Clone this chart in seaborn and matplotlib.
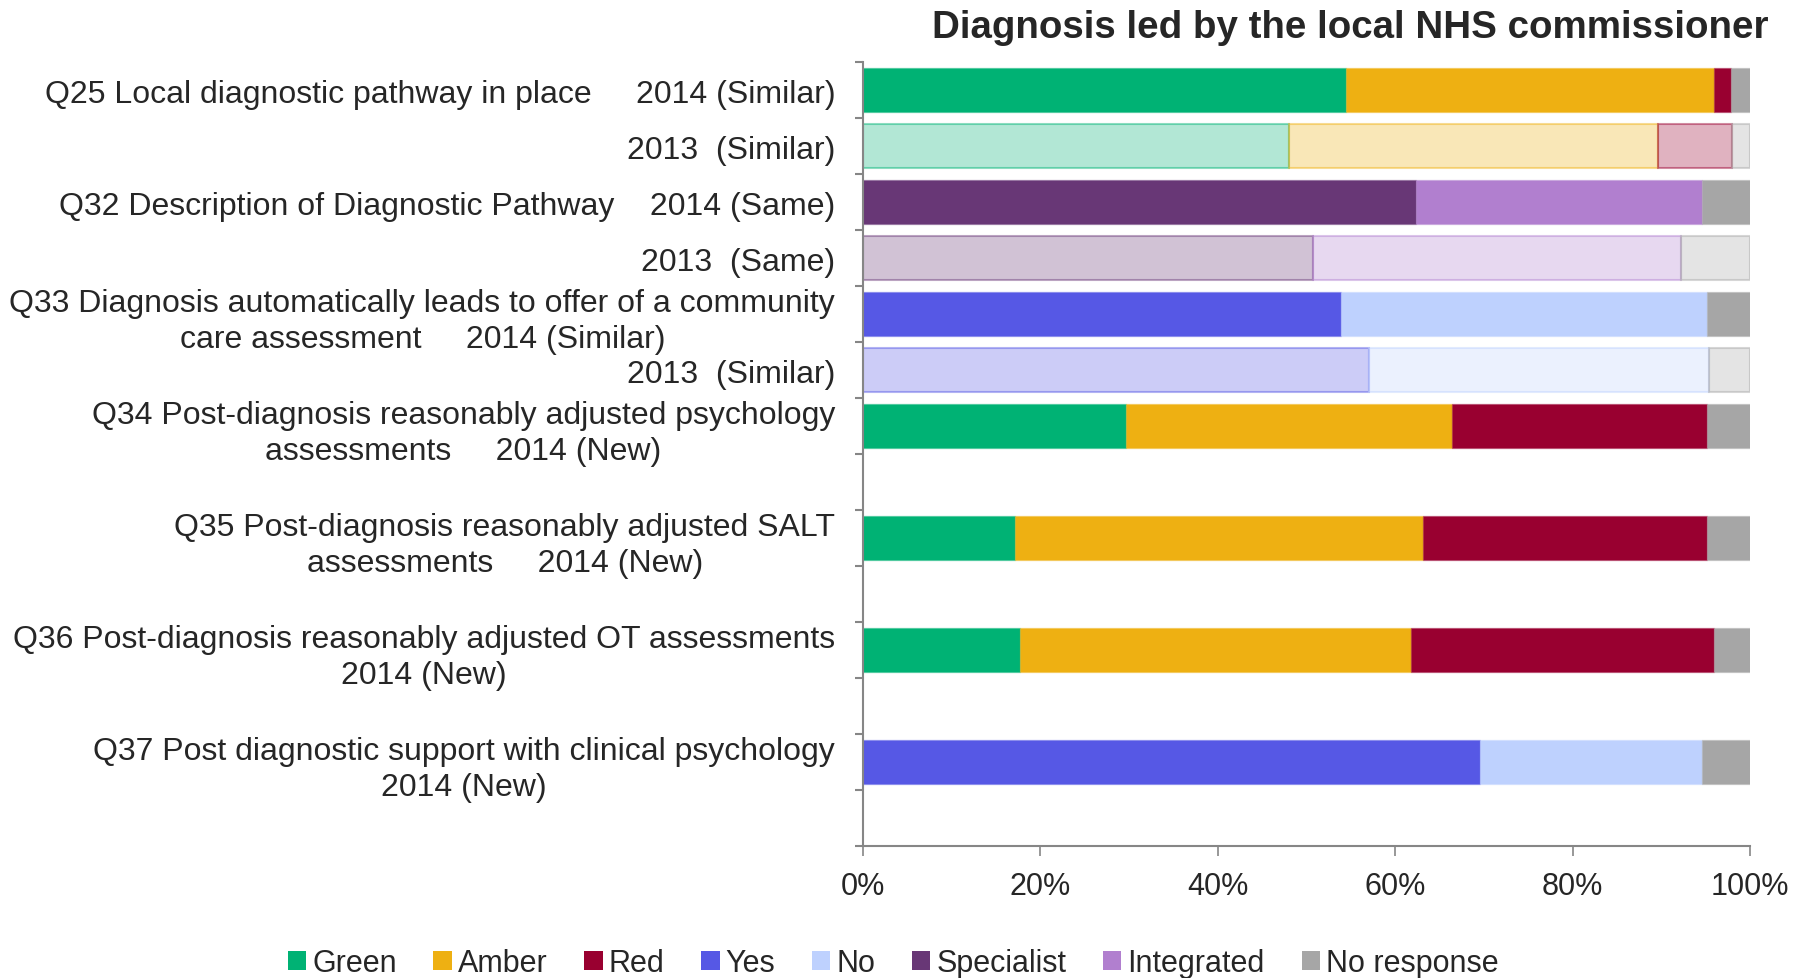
import matplotlib
matplotlib.use("Agg")
import matplotlib.pyplot as plt
import matplotlib.colors as mcolors
from matplotlib.patches import Patch
import seaborn as sns
import numpy as np

# rows top to bottom, empty strings are spacer slots
labels = [
    "Q25 Local diagnostic pathway in place     2014 (Similar)",
    "2013  (Similar)",
    "Q32 Description of Diagnostic Pathway    2014 (Same)",
    "2013  (Same)",
    "Q33 Diagnosis automatically leads to offer of a community\ncare assessment     2014 (Similar)",
    "2013  (Similar)",
    "Q34 Post-diagnosis reasonably adjusted psychology\nassessments     2014 (New)",
    "",
    "Q35 Post-diagnosis reasonably adjusted SALT\nassessments     2014 (New)",
    "",
    "Q36 Post-diagnosis reasonably adjusted OT assessments\n2014 (New)",
    "",
    "Q37 Post diagnostic support with clinical psychology\n2014 (New)",
    "",
]
years = ["2014", "2013", "2014", "2013", "2014", "2013", "2014", "",
         "2014", "", "2014", "", "2014", ""]

green       = [54.5, 48.0, 0, 0, 0, 0, 29.6, 0, 17.1, 0, 17.7, 0, 0, 0]
amber       = [41.4, 41.6, 0, 0, 0, 0, 36.8, 0, 46.0, 0, 44.1, 0, 0, 0]
red         = [2.0, 8.4, 0, 0, 0, 0, 28.8, 0, 32.1, 0, 34.1, 0, 0, 0]
yes         = [0, 0, 0, 0, 53.9, 57.1, 0, 0, 0, 0, 0, 0, 69.6, 0]
no          = [0, 0, 0, 0, 41.3, 38.3, 0, 0, 0, 0, 0, 0, 25.0, 0]
specialist  = [0, 0, 62.4, 50.7, 0, 0, 0, 0, 0, 0, 0, 0, 0, 0]
integrated  = [0, 0, 32.2, 41.5, 0, 0, 0, 0, 0, 0, 0, 0, 0, 0]
no_response = [2.1, 2.0, 5.4, 7.8, 4.8, 4.6, 4.8, 0, 4.8, 0, 4.1, 0, 5.4, 0]

series = ["Green", "Amber", "Red", "Yes", "No", "Specialist", "Integrated", "No response"]
values = [green, amber, red, yes, no, specialist, integrated, no_response]
colors = ["#00B274", "#EEB012", "#990030", "#5658E5", "#BED1FE",
          "#683776", "#B17FCF", "#A6A6A6"]

sns.set_style("white")
plt.rcParams["font.family"] = ["Liberation Sans", "DejaVu Sans"]

fig = plt.figure(figsize=(18.08, 9.79), dpi=100)
ax = fig.add_axes([0.4773, 0.1348, 0.4906, 0.8008])

pos = np.arange(len(labels))
left = np.zeros(len(labels))
for name, vals, col in zip(series, values, colors):
    vals = np.array(vals, dtype=float)
    rgb = mcolors.to_rgb(col)
    for i, v in enumerate(vals):
        if v <= 0:
            continue
        if years[i] == "2013":
            fc = rgb + (0.3,)
            ec = rgb + (0.45,)
            lw = 1.5
        else:
            fc = rgb
            ec = rgb + (0.35,)
            lw = 1.0
        ax.barh(pos[i], v, left=left[i], height=0.8, color=fc,
                edgecolor=ec, linewidth=lw)
    left += vals

ax.set_xlim(0, 100)
ax.set_ylim(len(labels) - 0.5, -0.5)

ax.set_xticks(np.arange(0, 101, 20))
ax.set_xticklabels([f"{v}%" for v in range(0, 101, 20)], fontsize=22)
ax.set_yticks(np.arange(-0.5, len(labels), 1.0))
ax.set_yticklabels([])
ax.set_yticks(pos, minor=True)
ax.set_yticklabels(labels, minor=True, fontsize=23)
for lbl in ax.get_yticklabels(minor=True):
    lbl.set_multialignment("center")
    lbl.set_linespacing(1.3)

gray = "#868686"
ax.tick_params(axis="y", which="major", left=True, length=6, width=1.5, color=gray)
ax.tick_params(axis="y", which="minor", left=True, length=0, pad=20)
ax.tick_params(axis="x", which="major", bottom=True, length=7, width=1.2,
               color=gray, pad=11)

sns.despine(ax=ax, top=True, right=True)
for s in ("left", "bottom"):
    ax.spines[s].set_color(gray)
    ax.spines[s].set_linewidth(1.5)

fig.text(0.978, 0.971, "Diagnosis led by the local NHS commissioner",
         ha="right", va="center", fontsize=27.7, fontweight="bold")

handles = [Patch(facecolor=c, edgecolor="none", label=n) for n, c in zip(series, colors)]
fig.legend(handles=handles, loc="center", bbox_to_anchor=(0.494, 0.015),
           ncol=8, frameon=False, fontsize=22, handlelength=0.6,
           handleheight=0.6, handletextpad=0.2, columnspacing=1.2)

fig.savefig("out.png", dpi=100)
